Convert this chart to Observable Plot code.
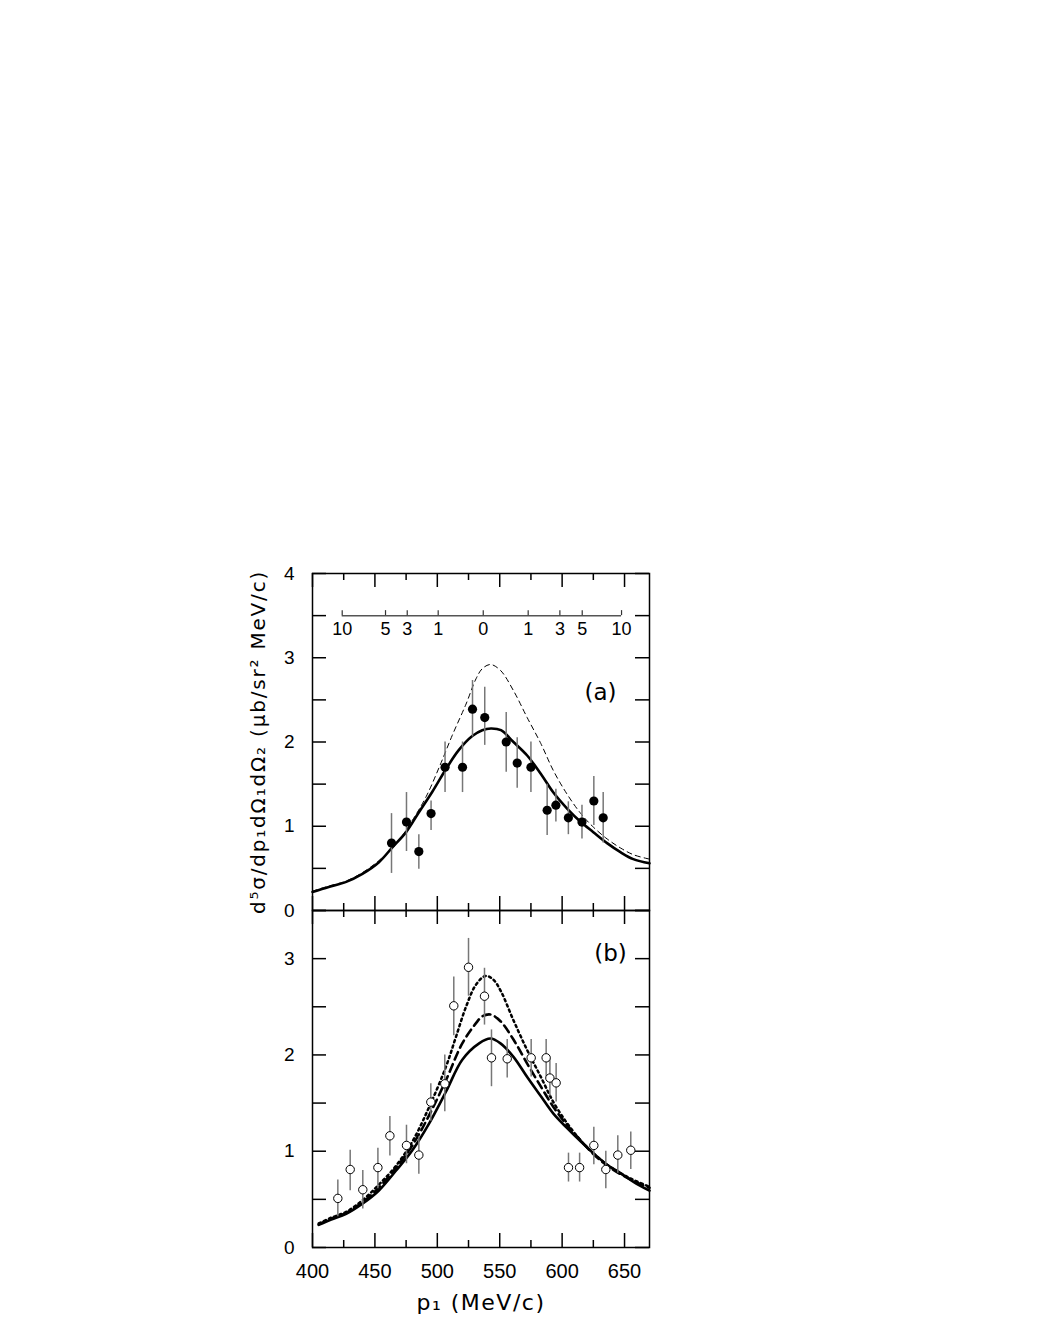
<!DOCTYPE html>
<html><head><meta charset="utf-8">
<script src="https://cdn.jsdelivr.net/npm/d3@7"></script>
<script src="https://cdn.jsdelivr.net/npm/@observablehq/plot@0.6"></script>
<style>
body{margin:0;background:#fff;}
#wrap{position:relative;width:1038px;height:1343px;background:#fff;}
#wrap svg{position:absolute;left:0;}
</style></head><body><div id="wrap"></div>
<script>
// ---------- data ----------
const xDomain = [400, 670];
const yDomainA = [0, 4];
const yDomainB = [0, 3.5];
const xMajorTicks = [400, 450, 500, 550, 600, 650];
const xMinorTicks = [425, 475, 525, 575, 625];
const xTickLabels = [400, 450, 500, 550, 600, 650];
const yTicksA = [0, 0.5, 1, 1.5, 2, 2.5, 3, 3.5, 4];
const yLabelsA = [0, 1, 2, 3, 4];
const yTicksB = [0, 0.5, 1, 1.5, 2, 2.5, 3, 3.5];
const yLabelsB = [0, 1, 2, 3];

// inset scale in panel (a)
const insetLevel = 3.5;
const insetTickPos = [423.8, 458.5, 475.9, 500.7, 536.8, 572.8, 598.2, 616.1, 647.6];
const insetTickLabels = ["10", "5", "3", "1", "0", "1", "3", "5", "10"];

// panel (a) data: filled circles
const aX  = [463.3, 475.3, 485.2, 495.0, 506.2, 520.2, 528.2, 538.0, 555.2, 564.0, 575.0, 588.0, 595.0, 605.0, 615.9, 625.4, 632.9];
const aY  = [0.80, 1.05, 0.70, 1.15, 1.70, 1.70, 2.39, 2.29, 2.00, 1.75, 1.70, 1.19, 1.25, 1.10, 1.05, 1.30, 1.10];
const aLo = [0.44, 0.70, 0.49, 0.95, 1.40, 1.40, 2.06, 1.96, 1.64, 1.45, 1.40, 0.89, 1.05, 0.90, 0.85, 1.01, 0.80];
const aHi = [1.15, 1.40, 0.90, 1.30, 2.00, 2.00, 2.73, 2.65, 2.35, 2.05, 2.00, 1.50, 1.44, 1.29, 1.25, 1.59, 1.40];

// panel (a) curves
const aSolidX = [400, 413, 427, 440, 453, 464, 475, 485, 496, 507, 517, 528, 536, 543, 551, 561, 572, 583, 593, 604, 615, 625, 636, 647, 657, 670];
const aSolidY = [0.22, 0.28, 0.34, 0.435, 0.57, 0.75, 0.93, 1.16, 1.41, 1.68, 1.90, 2.07, 2.14, 2.16, 2.14, 2.00, 1.84, 1.62, 1.40, 1.21, 1.05, 0.93, 0.80, 0.69, 0.61, 0.56];
const aDashX = [400, 413, 427, 440, 453, 468, 480, 491, 501.5, 512, 523, 531, 536, 542.6, 550.6, 561, 572, 583, 593, 604, 615, 625, 636, 647, 657.5, 670];
const aDashY = [0.23, 0.29, 0.35, 0.45, 0.59, 0.81, 1.07, 1.35, 1.70, 2.08, 2.45, 2.75, 2.87, 2.92, 2.85, 2.61, 2.29, 1.98, 1.66, 1.38, 1.15, 0.99, 0.85, 0.74, 0.66, 0.61];

// panel (b) data: open circles
const bX  = [420.3, 430.2, 440.3, 452.4, 462.0, 475.3, 485.2, 494.8, 506.0, 513.2, 525.0, 537.8, 543.4, 556.0, 575.2, 587.2, 590.2, 595.2, 605.1, 614.0, 625.4, 635.0, 644.6, 655.0];
const bY  = [0.51, 0.81, 0.60, 0.83, 1.16, 1.06, 0.96, 1.51, 1.70, 2.51, 2.91, 2.61, 1.97, 1.96, 1.97, 1.97, 1.76, 1.71, 0.83, 0.83, 1.06, 0.81, 0.96, 1.01];
const bLo = [0.32, 0.59, 0.40, 0.61, 0.95, 0.87, 0.76, 1.31, 1.41, 2.20, 2.61, 2.31, 1.67, 1.76, 1.77, 1.77, 1.57, 1.51, 0.68, 0.68, 0.86, 0.61, 0.77, 0.81];
const bHi = [0.70, 1.01, 0.80, 1.03, 1.36, 1.27, 1.15, 1.70, 2.00, 2.81, 3.21, 2.90, 2.26, 2.16, 2.16, 2.16, 1.95, 1.91, 0.98, 0.98, 1.25, 1.00, 1.16, 1.20];

// panel (b) curves
const bSolidX = [405, 415, 427, 440, 453, 467, 480, 493.5, 507, 520, 533.5, 542.6, 550.6, 561, 572, 583, 593, 604, 615, 625, 636, 647, 657.5, 670];
const bSolidY = [0.235, 0.29, 0.35, 0.455, 0.59, 0.80, 1.01, 1.29, 1.62, 1.95, 2.12, 2.17, 2.12, 1.98, 1.77, 1.57, 1.39, 1.24, 1.10, 0.98, 0.86, 0.77, 0.68, 0.59];
const bDashX = [405, 415, 427, 440, 453, 467, 480, 493.5, 507, 520, 531, 536, 542.6, 550.6, 561, 572, 583, 593, 604, 615, 625, 636, 647, 657.5, 670];
const bDashY = [0.24, 0.30, 0.36, 0.47, 0.62, 0.83, 1.06, 1.375, 1.74, 2.12, 2.33, 2.40, 2.42, 2.35, 2.16, 1.91, 1.67, 1.46, 1.27, 1.11, 0.97, 0.85, 0.76, 0.69, 0.62];
const bDotX = [405, 415, 427, 440, 453, 467, 480, 493.5, 507, 515, 523, 531, 538.6, 545, 551, 561, 572, 583, 593, 604, 615, 625, 636, 647, 657.5, 670];
const bDotY = [0.25, 0.31, 0.37, 0.49, 0.65, 0.85, 1.10, 1.46, 1.88, 2.19, 2.50, 2.73, 2.82, 2.78, 2.66, 2.36, 2.05, 1.77, 1.51, 1.29, 1.11, 0.98, 0.86, 0.77, 0.70, 0.63];

const panelLabelA = "(a)";
const panelLabelB = "(b)";
const yTitle = "d⁵σ/dp₁dΩ₁dΩ₂ (μb/sr² MeV/c)";
const xTitle = "p₁ (MeV/c)";

// ---------- build ----------
const zip = (xs, ys) => xs.map((x, i) => ({x, y: ys[i]}));
const zipErr = (xs, ys, lo, hi) => xs.map((x, i) => ({x, y: ys[i], lo: lo[i], hi: hi[i]}));
const pointsA = zipErr(aX, aY, aLo, aHi);
const pointsB = zipErr(bX, bY, bLo, bHi);
const insetTicks = insetTickPos.map((x, i) => ({x, label: insetTickLabels[i]}));

const FONT = "Liberation Sans, Arial, sans-serif";
const TFONT = "DejaVu Sans, sans-serif";
const W = 337, H = 337;
const mL = 312, mR = 1038 - 312 - W;
const MAJ = 14, MIN = 7;
const fmt = d => String(d);

function frameTicks(yTicks) {
  const s = {stroke: "black", strokeWidth: 1.5};
  return [
    Plot.tickX(xMajorTicks, {x: d => d, insetTop: H - MAJ, ...s}),
    Plot.tickX(xMinorTicks, {x: d => d, insetTop: H - MIN, ...s}),
    Plot.tickX(xMajorTicks, {x: d => d, insetBottom: H - MAJ, ...s}),
    Plot.tickX(xMinorTicks, {x: d => d, insetBottom: H - MIN, ...s}),
    Plot.tickY(yTicks, {y: d => d, insetRight: W - MAJ, ...s}),
    Plot.tickY(yTicks, {y: d => d, insetLeft: W - MAJ, ...s}),
    Plot.frame({stroke: "black", strokeWidth: 1.5})
  ];
}

const tickLenA = 5 * (yDomainA[1] - yDomainA[0]) / H;

const plotA = Plot.plot({
  width: 1038, height: 20 + H + 0,
  marginLeft: mL, marginRight: mR, marginTop: 20, marginBottom: 0,
  style: {fontFamily: FONT, background: "transparent", overflow: "visible"},
  x: {domain: xDomain, axis: null},
  y: {domain: yDomainA},
  marks: [
    // inset scale
    Plot.ruleY([insetLevel], {x1: insetTickPos[0], x2: insetTickPos[insetTickPos.length - 1], stroke: "#555", strokeWidth: 1.5}),
    Plot.ruleX(insetTicks, {x: "x", y1: insetLevel, y2: insetLevel + tickLenA, stroke: "#333", strokeWidth: 1.2}),
    Plot.text(insetTicks, {x: "x", y: insetLevel, text: "label", dy: 14, fontSize: 18, fill: "black"}),
    // curves
    Plot.line(zip(aDashX, aDashY), {x: "x", y: "y", curve: "catmull-rom", stroke: "black", strokeWidth: 1, strokeDasharray: "5,4"}),
    Plot.line(zip(aSolidX, aSolidY), {x: "x", y: "y", curve: "catmull-rom", stroke: "black", strokeWidth: 2.6}),
    // data
    Plot.ruleX(pointsA, {x: "x", y1: "lo", y2: "hi", stroke: "#777", strokeWidth: 1.5}),
    Plot.dot(pointsA, {x: "x", y: "y", r: 4.6, fill: "black", stroke: "none"}),
    ...frameTicks(yTicksA),
    Plot.axisY({ticks: yLabelsA, tickFormat: fmt, tickSize: 0, tickPadding: 18, fontSize: 19, label: null}),
    Plot.text([panelLabelA], {frameAnchor: "top-right", dx: -49, dy: 119, fontSize: 23, fontFamily: TFONT, textAnchor: "middle", lineAnchor: "middle"}),
    Plot.text([yTitle], {frameAnchor: "left", dx: -54, rotate: -90, fontSize: 20, fontFamily: TFONT, textAnchor: "middle", lineAnchor: "middle", className: "ytitle"})
  ]
});
plotA.style.top = (573 - 20) + "px";

const plotB = Plot.plot({
  width: 1038, height: H + 80,
  marginLeft: mL, marginRight: mR, marginTop: 0, marginBottom: 80,
  style: {fontFamily: FONT, background: "transparent", overflow: "visible"},
  x: {domain: xDomain},
  y: {domain: yDomainB},
  marks: [
    Plot.line(zip(bDotX, bDotY), {x: "x", y: "y", curve: "catmull-rom", stroke: "black", strokeWidth: 2.5, strokeDasharray: "2.2,3.4"}),
    Plot.line(zip(bDashX, bDashY), {x: "x", y: "y", curve: "catmull-rom", stroke: "black", strokeWidth: 2.6, strokeDasharray: "8,5"}),
    Plot.line(zip(bSolidX, bSolidY), {x: "x", y: "y", curve: "catmull-rom", stroke: "black", strokeWidth: 2.6}),
    Plot.ruleX(pointsB, {x: "x", y1: "lo", y2: "hi", stroke: "#777", strokeWidth: 1.5}),
    Plot.dot(pointsB, {x: "x", y: "y", r: 4.2, fill: "white", stroke: "black", strokeWidth: 1}),
    ...frameTicks(yTicksB),
    Plot.axisY({ticks: yLabelsB, tickFormat: fmt, tickSize: 0, tickPadding: 18, fontSize: 19, label: null}),
    Plot.axisX({ticks: xTickLabels, tickFormat: fmt, tickSize: 0, tickPadding: 16, fontSize: 20, label: null}),
    Plot.text([panelLabelB], {frameAnchor: "top-right", dx: -39, dy: 43, fontSize: 23, fontFamily: TFONT, textAnchor: "middle", lineAnchor: "middle"}),
    Plot.text([xTitle], {frameAnchor: "bottom", dy: 55, fontSize: 22, fontFamily: TFONT, lineAnchor: "middle", className: "xtitle"})
  ]
});
plotB.style.top = "910px";

// letter spacing for the wide original titles
d3.select(plotA).selectAll("g.ytitle text").attr("letter-spacing", "1.8px");
d3.select(plotB).selectAll("g.xtitle text").attr("letter-spacing", "1.5px");

const wrap = document.getElementById("wrap");
wrap.appendChild(plotB);
wrap.appendChild(plotA);
</script></body></html>
